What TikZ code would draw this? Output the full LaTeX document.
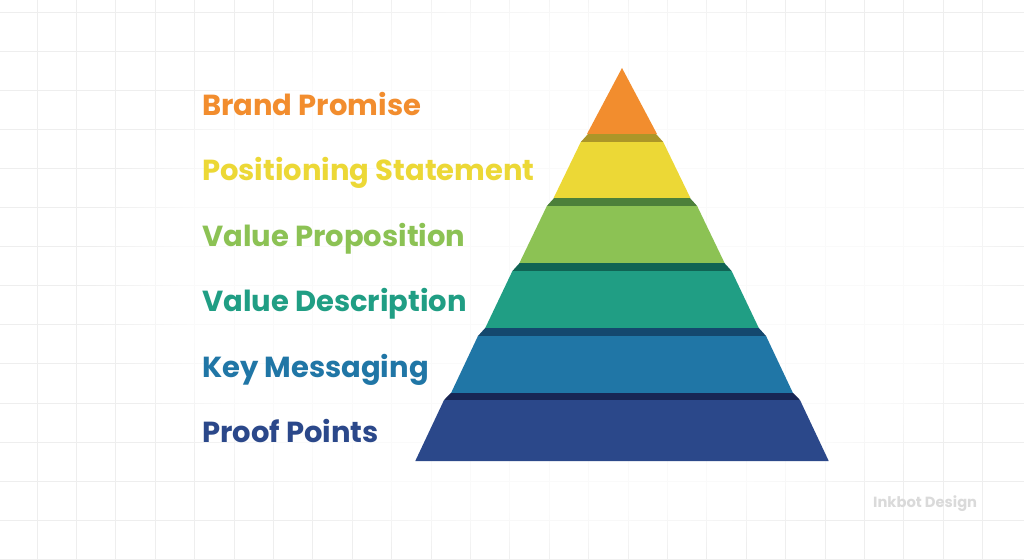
\documentclass[tikz,border=0pt]{standalone}
\usepackage{fontspec}
\setmainfont{Poppins}
\usetikzlibrary{positioning, fadings}
\usepackage{color}
\definecolor{grid_gray}{RGB}{238,238,238}
\definecolor{promise_orange}{RGB}{242,141,46}
\definecolor{statement_yellow}{RGB}{236,216,54}
\definecolor{statement_face}{RGB}{172,150,40}
\definecolor{proposition_green}{RGB}{140,194,84}
\definecolor{proposition_face}{RGB}{76,128,58}
\definecolor{description_teal}{RGB}{32,158,132}
\definecolor{description_face}{RGB}{16,100,84}
\definecolor{messaging_blue}{RGB}{32,118,166}
\definecolor{messaging_face}{RGB}{20,72,110}
\definecolor{proof_navy}{RGB}{43,72,138}
\definecolor{proof_face}{RGB}{24,38,84}
\definecolor{watermark_gray}{RGB}{218,218,218}

\begin{document}
\begin{tikzpicture}[x=1pt, y=-1pt,
		grid_line/.style={draw=grid_gray, line width=0.9pt},
		layer_label/.style={anchor=base west, inner sep=0pt, font=\bfseries\fontsize{29}{29}\selectfont}]
			% --- Begin Background ---
			\useasboundingbox (0,0) rectangle (1024,559);
			\fill[white] (0,0) rectangle (1024,559);
			\foreach \gx in {0,...,25} {
				\draw[grid_line] ({-2.4+39.4*\gx},0) -- ++(0,559);
			}
			\foreach \gy in {0,...,14} {
				\draw[grid_line] (0,{12+39.1*\gy}) -- ++(1024,0);
			}
			% Fade the grid away behind the pyramid and the labels.
			\fill[white, opacity=0.75, path fading=circle with fuzzy edge 20 percent] (560,270) ellipse [x radius=470, y radius=300];
			% --- End Background ---

			% --- Begin Pyramid ---
			\def\cx{622}
			\fill[promise_orange] (\cx,68) -- ({\cx+35},134) -- ({\cx-35},134) -- cycle;
			\foreach \yprev/\ytop/\ybot/\fillc/\facec in {
					134/142/198/statement_yellow/statement_face,
					198/206/263/proposition_green/proposition_face,
					263/271/328/description_teal/description_face,
					328/336/393/messaging_blue/messaging_face,
					393/400/461/proof_navy/proof_face} {
				% top face of the layer
				\fill[\facec] ({\cx-0.53*(\yprev-68)+1},\yprev) -- ({\cx+0.53*(\yprev-68)-1},\yprev)
					-- ({\cx+0.53*(\ytop-68)+2},\ytop) -- ({\cx-0.53*(\ytop-68)-2},\ytop) -- cycle;
				% front of the layer
				\fill[\fillc] ({\cx-0.53*(\ytop-68)-2},\ytop) -- ({\cx+0.53*(\ytop-68)+2},\ytop)
					-- ({\cx+0.526*(\ybot-68)},\ybot) -- ({\cx-0.526*(\ybot-68)},\ybot) -- cycle;
			}
			% --- End Pyramid ---

			% --- Begin Labels ---
			\node[layer_label, text=promise_orange] (brand_promise) at (202,115) {Brand Promise};
			\node[layer_label, text=statement_yellow] (positioning_statement) at (202,180.5) {Positioning Statement};
			\node[layer_label, text=proposition_green] (value_proposition) at (202,246) {Value Proposition};
			\node[layer_label, text=description_teal] (value_description) at (202,311.5) {Value Description};
			\node[layer_label, text=messaging_blue] (key_messaging) at (202,377) {Key Messaging};
			\node[layer_label, text=proof_navy] (proof_points) at (202,442.5) {Proof Points};
			% --- End Labels ---

			\node[anchor=base west, inner sep=0pt, text=watermark_gray, font=\bfseries\fontsize{14.7}{14.7}\selectfont] (watermark) at (873,507) {Inkbot Design};
		\end{tikzpicture}
\end{document}
